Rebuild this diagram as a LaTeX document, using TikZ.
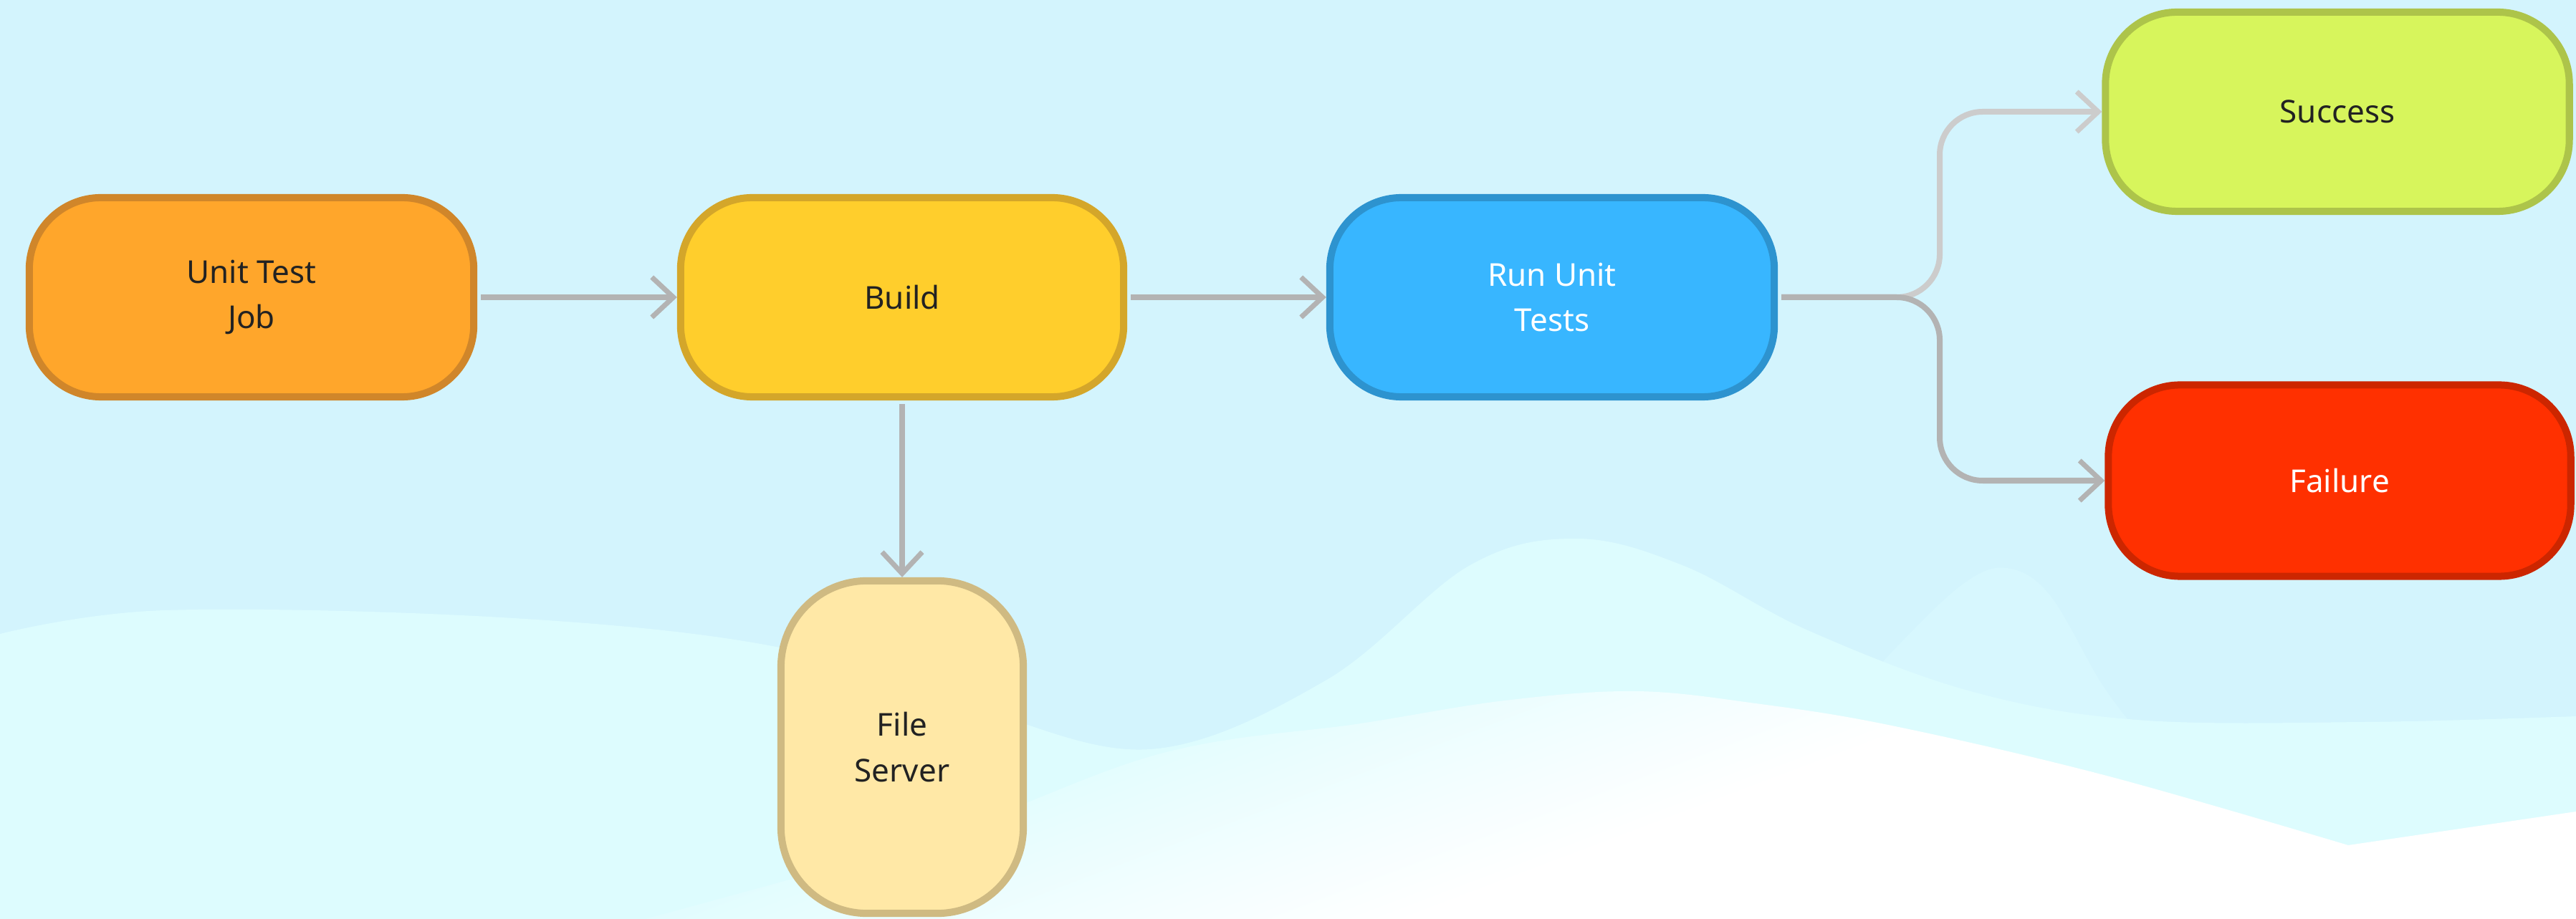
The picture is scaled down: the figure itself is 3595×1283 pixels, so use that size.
\documentclass[tikz,border=0pt]{standalone}
\usepackage{fontspec}
\setmainfont{Noto Sans}
\usetikzlibrary{arrows.meta}
\definecolor{bgsky}{HTML}{D3F4FD}
\definecolor{wavelight}{HTML}{DDFCFE}
\definecolor{wavemid}{HTML}{D7F7FE}
\definecolor{textdark}{HTML}{222222}
\definecolor{jobfill}{HTML}{FFA62B}
\definecolor{jobline}{HTML}{D0862A}
\definecolor{buildfill}{HTML}{FFCE2C}
\definecolor{buildline}{HTML}{D4A62A}
\definecolor{runfill}{HTML}{38B6FF}
\definecolor{runline}{HTML}{2D93CF}
\definecolor{okfill}{HTML}{D7F55C}
\definecolor{okline}{HTML}{ADC44A}
\definecolor{failfill}{HTML}{FF3000}
\definecolor{failline}{HTML}{CC2600}
\definecolor{filefill}{HTML}{FFE8A6}
\definecolor{fileline}{HTML}{CFBA82}
\definecolor{linkgray}{HTML}{B3B3B3}
\definecolor{linklight}{HTML}{CCCCCC}
\pgfdeclareverticalshading{hillshade}{100bp}{color(0bp)=(white); color(47bp)=(white); color(53bp)=(wavelight); color(100bp)=(wavelight)}

\begin{document}
\begin{tikzpicture}[x=0.01cm, y=-0.01cm,
  every node/.style = {shape=rectangle, rounded corners=1cm, line width=0.1cm, align=center,
    minimum width=6.2cm, minimum height=2.78cm, text=textdark, font=\fontsize{12.5}{18}\selectfont},
  link/.style = {draw=linkgray, line width=0.08cm, rounded corners=0.6cm,
    -{Straight Barb[length=0.3cm, width=0.56cm, line width=0.07cm]}, shorten <=0.05cm}]

\useasboundingbox (0,0) rectangle (3595,1283);
\fill[bgsky] (0,0) rectangle (3595,1283);
\fill[wavemid] (2560,1283) -- plot[smooth, tension=0.6] coordinates {(2560,1000) (2650,900) (2740,815) (2800,793) (2860,830) (2930,950) (2970,1005)} -- (2970,1283) -- cycle;
\fill[wavelight] (0,1283) -- plot[smooth, tension=0.6] coordinates {(0,885) (230,852) (700,862) (1078,902) (1350,985) (1605,1046) (1850,950) (2050,790) (2200,752) (2350,790) (2523,880) (2750,965) (2982,1005) (3300,1008) (3595,1000)} -- (3595,1283) -- cycle;
\begin{scope}
  \clip (900,1283) -- plot[smooth, tension=0.6] coordinates {(900,1283) (1300,1170) (1620,1052) (1899,1010) (2100,978) (2282,965) (2450,982) (2640,1013) (2940,1083) (3277,1180)} -- (3595,1133) -- (3595,1283) -- cycle;
  \shade[shading=hillshade, shading angle=20.7] (600,-910) rectangle (4200,2690);
\end{scope}

\node[fill=jobfill, draw=jobline] (unittest) at (351,415) {Unit Test\\Job};
\node[fill=buildfill, draw=buildline, minimum width=6.18cm] (build) at (1259,415) {Build};
\node[fill=runfill, draw=runline, text=white] (runtests) at (2166,415) {Run Unit\\Tests};
\node[fill=okfill, draw=okline, minimum width=6.47cm] (success) at (3262,156) {Success};
\node[fill=failfill, draw=failline, text=white, minimum width=6.45cm, minimum height=2.67cm] (failure) at (3265,671) {Failure};
\node[fill=filefill, draw=fileline, rounded corners=1.2cm, minimum width=3.38cm, minimum height=4.64cm] (fileserver) at (1259,1043) {File\\Server};

\coordinate (split) at (2707,415);
\draw[link] (unittest.east) -- (build.west);
\draw[link] (build.east) -- (runtests.west);
\draw[link] (build.south) -- (fileserver.north);
\draw[link, draw=linklight] (runtests.east) -- (split) |- (success.west);
\draw[link] (runtests.east) -- (split) |- (failure.west);
\end{tikzpicture}
\end{document}
